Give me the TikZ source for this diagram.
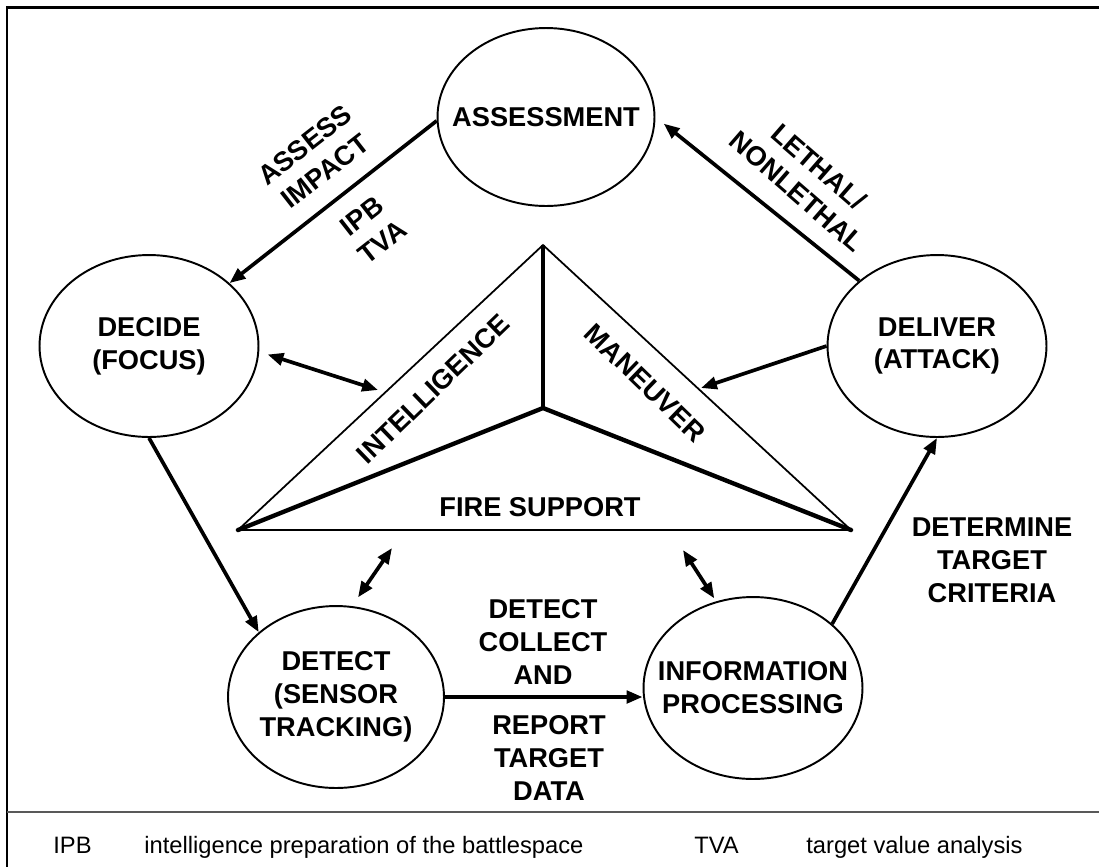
\documentclass[tikz,border=0pt]{standalone}
\usepackage{fontspec}
\setmainfont{Liberation Sans}
\usetikzlibrary{shapes.geometric, arrows.meta}

\begin{document}
\begin{tikzpicture}[x=0.02cm, y=-0.02cm,
  phase/.style={draw, line width=1.1pt, ellipse, inner xsep=-45pt, inner ysep=-20pt,
    minimum width=4.38cm, minimum height=3.64cm, align=center,
    font=\fontsize{15.5}{18.7}\selectfont\bfseries},
  tag/.style={align=center, inner sep=0pt,
    font=\fontsize{15.5}{18.7}\selectfont\bfseries},
  key/.style={inner sep=0pt, anchor=base west, font=\fontsize{13.5}{16}\selectfont},
  flow/.style={line width=2.1pt, -{Triangle[length=9pt,width=7pt]}},
  both/.style={line width=2.1pt, {Triangle[length=9pt,width=7pt]}-{Triangle[length=9pt,width=7pt]}}]

  \useasboundingbox (0,0) rectangle (1099,867);
  % frame and legend rule
  \draw [line width=1.7pt] (1099,7) -- (7,7) -- (7,867);
  \draw [line width=1.2pt, color=gray!70!black] (7,812) -- (1099,812);

  % the five phases
  \node [phase, minimum width=4.34cm, minimum height=3.56cm] (assess) at (546,117) {ASSESSMENT};
  \node [phase] (decide) at (149,346) {DECIDE\\(FOCUS)};
  \node [phase] (deliver) at (937,346) {DELIVER\\(ATTACK)};
  \node [phase, minimum width=4.32cm] (detect) at (336,697) {DETECT\\(SENSOR\\TRACKING)};
  \node [phase] (info) at (753,688) {INFORMATION\\PROCESSING};

  % triangle
  \coordinate (apex) at (543,245);
  \coordinate (hub) at (543,408);
  \coordinate (baseL) at (238,530);
  \coordinate (baseR) at (851,530);
  \draw [line width=1pt] (baseL) -- (apex) -- (baseR);
  \draw [line width=1.5pt] (baseL) -- (baseR);
  \draw [line width=1.8pt] (apex) -- (hub);
  \draw [line width=2.5pt, line cap=round] (baseL) -- (hub) -- (baseR);

  \node [tag, rotate=44] (intel) at (433,389) {INTELLIGENCE};
  \node [tag, rotate=-44] (manv) at (645,383) {MANEUVER};
  \node [tag] (fires) at (540,507) {FIRE SUPPORT};

  % free ends near the triangle
  \coordinate (nearI) at (378,390);
  \coordinate (nearM) at (701,388);
  \coordinate (nearFL) at (392,548);
  \coordinate (nearFR) at (683,550);

  % connectors
  \draw [flow] (assess.182) -- (decide.38);
  \draw [flow, shorten >=6pt] (deliver.140) -- (assess.0);
  \draw [both, shorten <=5pt] (decide.-3) -- (nearI);
  \draw [flow] (deliver.180) -- (nearM);
  \draw [flow] (decide.-90) -- (detect.140);
  \draw [both, shorten <=6pt] (detect.80) -- (nearFL);
  \draw [both, shorten >=2pt] (nearFR) -- (info.113);
  \draw [flow] (detect.east) -- (detect.east -| info.west);
  \draw [flow] (info.39) -- (deliver.south);

  % connector labels
  \node [tag, rotate=38] (impact) at (315,158) {ASSESS\\IMPACT};
  \node [tag, rotate=38] (ipbtva) at (372,229) {IPB\\TVA};
  \node [tag, rotate=-41] (lethal) at (808,179) {LETHAL/\\NONLETHAL};
  \node [tag] (criteria) at (992,560) {DETERMINE\\TARGET\\CRITERIA};
  \node [tag] (collect) at (543,642) {DETECT\\COLLECT\\AND};
  \node [tag] (report) at (549,758) {REPORT\\TARGET\\DATA};

  % legend
  \node [key] (ipb) at (53,853) {IPB};
  \node [key] (ipbtext) at (144,853) {intelligence preparation of the battlespace};
  \node [key] (tva) at (694,853) {TVA};
  \node [key] (tvatext) at (806,853) {target value analysis};
\end{tikzpicture}
\end{document}
